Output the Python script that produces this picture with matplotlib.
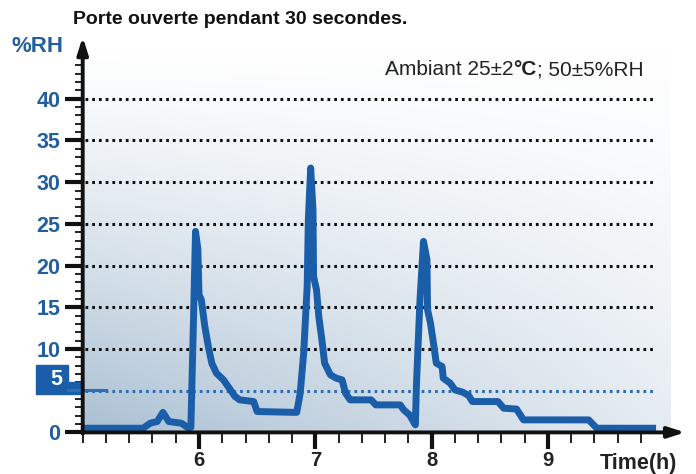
import numpy as np
import matplotlib
matplotlib.use('Agg')
from matplotlib import pyplot as plt
from matplotlib.patches import Rectangle

plt.rcParams['font.family'] = ['Liberation Sans', 'DejaVu Sans']

# data
hours = [5.00, 5.52, 5.58, 5.64, 5.69, 5.74, 5.85, 5.91, 5.93, 5.95, 5.97, 5.99,
         6.00, 6.02, 6.05, 6.08, 6.11, 6.15, 6.21, 6.25, 6.31, 6.35, 6.47, 6.50,
         6.84, 6.87, 6.90, 6.93, 6.94, 6.96, 6.98, 6.985, 7.01, 7.03, 7.06, 7.08,
         7.13, 7.18, 7.23, 7.26, 7.30, 7.48, 7.52, 7.73, 7.76, 7.81, 7.86, 7.87,
         7.90, 7.93, 7.96, 7.965, 7.99, 8.02, 8.04, 8.09, 8.10, 8.16, 8.20, 8.27,
         8.32, 8.35, 8.57, 8.62, 8.73, 8.79, 9.35, 9.42, 9.90]
rh = [0.5, 0.5, 1.1, 1.3, 2.4, 1.3, 1.1, 0.5, 0.6, 12.0, 24.1, 22.0,
      16.5, 15.9, 12.7, 10.3, 8.3, 7.1, 6.3, 5.5, 4.3, 3.9, 3.7, 2.5,
      2.4, 4.7, 9.5, 17.5, 25.5, 31.7, 26.7, 18.7, 17.1, 13.9, 10.7, 8.3,
      6.9, 6.5, 6.3, 4.7, 3.9, 3.9, 3.3, 3.3, 2.7, 2.1, 0.9, 5.9,
      15.9, 22.9, 20.7, 14.7, 13.1, 10.3, 8.3, 7.9, 6.5, 5.9, 5.1, 4.8,
      4.4, 3.7, 3.7, 2.9, 2.8, 1.5, 1.5, 0.5, 0.5]

y_major = [0, 5, 10, 15, 20, 25, 30, 35, 40]
y_labels = ['0', '', '10', '15', '20', '25', '30', '35', '40']
x_major = [6, 7, 8, 9]
grid_levels = [10, 15, 20, 25, 30, 35, 40]
blue_level = 5
title = "Porte ouverte pendant 30 secondes."

blue = '#1a5eaa'
label_blue = '#235f9e'

fig = plt.figure(figsize=(6.96, 4.74), dpi=100)
ax = fig.add_axes([82.7 / 696, 41.6 / 474, 604.8 / 696, 392 / 474])
ax.set_xlim(5.0, 10.2)
ax.set_ylim(0, 47)

# background gradient
nx, ny = 200, 200
xs = np.linspace(0, 1, nx)
ys = np.linspace(0, 1, ny)
X, Y = np.meshgrid(xs, ys)
s = (1 - Y) ** 1.2 * (1 - 0.7 * X)
base = np.array([170, 192, 211]) / 255.0
img = 1 - s[..., None] * (1 - base[None, None, :])
ax.imshow(img, extent=[5.0, 10.05, 0, 46], origin='lower', aspect='auto', zorder=0)

for spine in ax.spines.values():
    spine.set_visible(False)

# grid lines
for g in grid_levels:
    ax.plot([5.02, 9.92], [g, g], color='#111111', lw=2.2, linestyle=(0, (0.9, 1.3)), zorder=1)
ax.plot([5.02, 9.92], [blue_level, blue_level], color='#2e6db5', lw=2.2,
        linestyle=(0, (0.9, 1.3)), zorder=1)

# curve
ax.plot(hours, rh, color=blue, lw=5, solid_joinstyle='round', zorder=3)

# axes with arrows
ax.annotate('', xy=(5.0, 47.4), xytext=(5.0, -0.15), annotation_clip=False,
            arrowprops=dict(arrowstyle='-|>,head_length=1.0,head_width=0.32', lw=2.8, color='#111111',
                            shrinkA=0, shrinkB=0), zorder=4)
ax.annotate('', xy=(10.18, 0), xytext=(4.99, 0), annotation_clip=False,
            arrowprops=dict(arrowstyle='-|>,head_length=1.0,head_width=0.32', lw=2.8, color='#111111',
                            shrinkA=0, shrinkB=0), zorder=4)

# ticks
ax.set_yticks(y_major)
ax.set_yticklabels(y_labels)
ax.set_yticks([v for v in range(1, 45) if v % 5 != 0], minor=True)
ax.set_xticks(x_major)
ax.set_xticks([round(5.0 + 0.2 * i, 1) for i in range(25) if (i % 5) != 0 or i == 0], minor=True)
ax.tick_params(axis='y', which='major', length=13, width=3, color='#111111', pad=3,
               labelsize=15.5, labelcolor=label_blue)
ax.tick_params(axis='y', which='minor', length=6, width=1.3, color='#111111')
ax.tick_params(axis='x', which='major', length=12, width=3, color='#111111', pad=1.5,
               labelsize=14.5, labelcolor='#222222')
ax.tick_params(axis='x', which='minor', length=8, width=1.3, color='#111111')
for lab in ax.get_yticklabels() + ax.get_xticklabels():
    lab.set_fontweight('bold')

# "5" label in a blue box
ax.yaxis.get_major_ticks()[1].tick1line.set_color(blue)
ax.add_patch(Rectangle((4.598, 4.6), 0.276, 3.5, color=blue, clip_on=False, zorder=2))
ax.add_patch(Rectangle((4.87, 4.6), 0.13, 1.45, color=blue, clip_on=False, zorder=2))
ax.plot([4.87, 5.2], [5.05, 5.05], color='#2f6fb8', lw=2.2, clip_on=False, zorder=2)
ax.text(4.822, 6.3, '5', fontsize=15.5, fontweight='bold', color='white',
        ha='right', va='center', zorder=5, clip_on=False)

# texts
fig.text(73 / 696, 1 - 20 / 474, title, fontsize=14, fontweight='bold',
         color='#111111', va='center', ha='left')
fig.text(12 / 696, 1 - 46 / 474, '%RH', fontsize=16, fontweight='bold',
         color=label_blue, va='center', ha='left')
fig.text(600 / 696, 1 - 469 / 474, 'Time(h)', fontsize=15.5, fontweight='bold',
         color='#222222', va='baseline', ha='left')
t1 = fig.text(385 / 696, 1 - 75 / 474, 'Ambiant 25±2', fontsize=15, color='#222222',
              va='baseline', ha='left')
t2 = ax.annotate('°C', xy=(1, 0), xycoords=t1, fontsize=15, fontweight='bold',
                 color='#222222', va='bottom', ha='left', annotation_clip=False)
ax.annotate('; 50±5%RH', xy=(1, 0), xycoords=t2, fontsize=15, color='#222222',
            va='bottom', ha='left', annotation_clip=False)

fig.savefig('out.png', dpi=100)
